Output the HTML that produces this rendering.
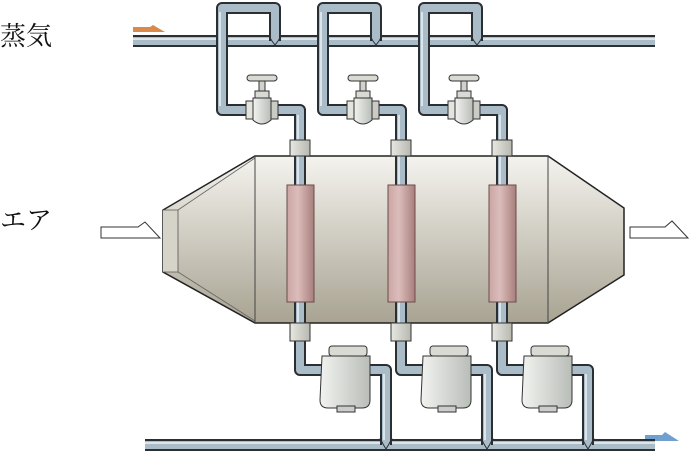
<!DOCTYPE html>
<html><head><meta charset="utf-8"><style>
html,body{margin:0;padding:0;background:#fff;width:691px;height:459px;overflow:hidden}
svg{display:block}
text{font-family:"Liberation Serif","Noto Serif CJK SC","Noto Sans CJK JP",serif;fill:#111}
</style></head><body>
<svg width="691" height="459" viewBox="0 0 691 459" xmlns="http://www.w3.org/2000/svg">
<defs>
<linearGradient id="body" x1="0" y1="0" x2="0" y2="1">
<stop offset="0" stop-color="#f4f3ee"/><stop offset="1" stop-color="#a8a392"/></linearGradient>
<linearGradient id="pink" x1="0" y1="0" x2="1" y2="0">
<stop offset="0" stop-color="#c9a5a3"/><stop offset="0.4" stop-color="#dcbdbb"/><stop offset="1" stop-color="#a77f7c"/></linearGradient>
<linearGradient id="col" x1="0" y1="0" x2="1" y2="0">
<stop offset="0" stop-color="#e8e8e2"/><stop offset="1" stop-color="#b7b8b0"/></linearGradient>
<linearGradient id="trap" x1="0" y1="0" x2="1" y2="0">
<stop offset="0" stop-color="#f2f3f0"/><stop offset="1" stop-color="#b9bdb8"/></linearGradient>
</defs>

<text x="0" y="45" font-size="26">蒸気</text>
<text x="0" y="229" font-size="26">エア</text>

<path d="M101 227 L138 227 L145 222 L160 238 L101 238 Z" fill="#fff" stroke="#333" stroke-width="1"/>
<path d="M630 227 L665 227 L672 221 L688 238 L630 238 Z" fill="#fff" stroke="#333" stroke-width="1"/>
<path d="M133 27 L150 27 L153 25 L165 32 L133 32 Z" fill="#d98a4a"/>
<path d="M645 435 L662 435 L665 432 L679 441 L645 441 Z" fill="#6fa0d0"/>

<path d="M255 156 L548 156 L624 208 L624 275 L548 323 L255 323 L163 272 L163 210 Z" fill="url(#body)" stroke="#222" stroke-width="1.5"/>
<path d="M163 210 L178 210 L178 272 L163 272" fill="#d6d3c8" stroke="#555" stroke-width="0.8"/>
<line x1="178" y1="210" x2="255" y2="158" stroke="#666" stroke-width="0.8"/>
<line x1="178" y1="272" x2="255" y2="321" stroke="#666" stroke-width="0.8"/>
<line x1="255" y1="156" x2="255" y2="323" stroke="#444" stroke-width="1"/>
<line x1="548" y1="156" x2="548" y2="323" stroke="#444" stroke-width="1"/>

<g fill="none">
<g stroke="#2a2f33" stroke-width="12">
<path d="M133 41 L655 41"/><path d="M145 445 L655 445"/>
</g>
<g stroke="#a9bcc8" stroke-width="8">
<path d="M133 41 L655 41"/><path d="M145 445 L655 445"/>
</g>
<g stroke="#dbe5ea" stroke-width="2">
<path d="M133 39 L655 39"/><path d="M145 443 L655 443"/>
</g>
</g>

<g id="unit">
<g fill="none" stroke-linejoin="round">
<path d="M275 41 L275 8 L222 8 L222 110 L262 110 L300 110 L300 340 L300 370 L322 370 M370 370 L386 370 L386 445" stroke="#2a2f33" stroke-width="12"/>
<path d="M275 41 L275 8 L222 8 L222 110 L262 110 L300 110 L300 340 L300 370 L322 370 M370 370 L386 370 L386 445" stroke="#a9bcc8" stroke-width="8"/>
<path d="M298 115 L298 340 M220 12 L220 106 M384 374 L384 440" stroke="#dbe5ea" stroke-width="2"/>
</g>
<rect x="247" y="75" width="30" height="6" rx="3" fill="#d8dad3" stroke="#333"/>
<rect x="259" y="81" width="6" height="12" fill="#d0d2cc" stroke="#333"/>
<rect x="255" y="91" width="14" height="8" fill="#d8dad3" stroke="#333"/>
<rect x="246" y="101" width="8" height="18" fill="#e3e4de" stroke="#333"/>
<rect x="270" y="101" width="8" height="18" fill="#c9cbc4" stroke="#333"/>
<path d="M253 98 L271 98 L271 120 Q262 128 253 120 Z" fill="url(#trap)" stroke="#333"/>
<rect x="290" y="140" width="20" height="16" fill="url(#col)" stroke="#333"/>
<rect x="290" y="323" width="20" height="18" fill="url(#col)" stroke="#333"/>
<rect x="287" y="185" width="27" height="117" fill="url(#pink)" stroke="#6d4b4a"/>
<rect x="329" y="346" width="38" height="10" rx="3" fill="#d8dad3" stroke="#333"/>
<path d="M322 356 L370 356 L370 400 Q370 408 362 408 L328 408 Q320 408 320 400 Z" fill="url(#trap)" stroke="#333"/>
<rect x="337" y="406" width="18" height="6" fill="#ccc" stroke="#333"/>
<path d="M269 36 L272 41 L275 45 L278 41 L281 36" fill="none" stroke="#2a2f33" stroke-width="1"/>
<path d="M380 438 L383 444 L386 449 L389 444 L392 438" fill="none" stroke="#2a2f33" stroke-width="1"/>
</g>
<use href="#unit" x="101"/>
<use href="#unit" x="202"/>
</svg>
</body></html>
